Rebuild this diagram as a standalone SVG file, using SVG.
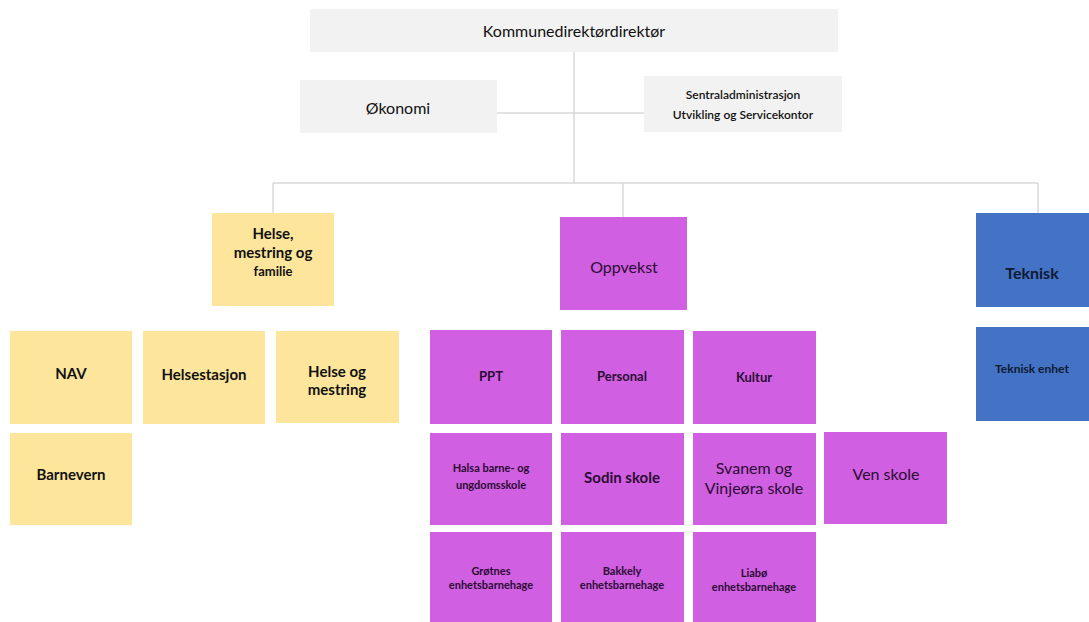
<svg xmlns="http://www.w3.org/2000/svg" width="1089" height="622" viewBox="0 0 1089 622">
<style>
text{font-family:Lato,"Liberation Sans",sans-serif;text-anchor:middle;dominant-baseline:central}
.g{fill:#f2f2f2}
.y{fill:#fde59c}
.m{fill:#d15fe2}
.b{fill:#4472c4}
.tg{fill:#111}
.ty{fill:#111;font-weight:bold}
.tm{fill:#2a0c33}
.tb{fill:#0e1a33;font-weight:bold}
.c{stroke:#d9d9d9;stroke-width:1.5;fill:none}
</style>
<rect width="1089" height="622" fill="#fff"/>
<g id="connectors">
<path class="c" d="M574 52V183M497 113H644M273 183H1038M273 183V213M623 183V217M1038 183V213"/>
</g>
<g id="kommunedirektor"><rect class="g" x="310" y="9" width="528" height="43"/><text class="tg" x="574" y="30" style="font-size:16px">Kommunedirektørdirektør</text></g>
<g id="okonomi"><rect class="g" x="300" y="80" width="197" height="53"/><text class="tg" x="398" y="107" style="font-size:16px">Økonomi</text></g>
<g id="sentraladm"><rect class="g" x="644" y="76" width="198" height="56"/><text class="tg" x="743" y="94" style="font-size:12px;font-weight:600">Sentraladministrasjon</text><text class="tg" x="743" y="114" style="font-size:12px;font-weight:600">Utvikling og Servicekontor</text></g>
<g id="helse"><rect class="y" x="212" y="213" width="122" height="93"/><text class="ty" x="273" y="233" style="font-size:15px">Helse,</text><text class="ty" x="273" y="252" style="font-size:15px">mestring og</text><text class="ty" x="273" y="271" style="font-size:13px">familie</text></g>
<g id="nav"><rect class="y" x="10" y="331" width="122" height="93"/><text class="ty" x="71" y="373" style="font-size:15px">NAV</text></g>
<g id="helsestasjon"><rect class="y" x="143" y="331" width="122" height="93"/><text class="ty" x="204" y="374" style="font-size:15px">Helsestasjon</text></g>
<g id="helsemestring"><rect class="y" x="276" y="331" width="123" height="92"/><text class="ty" x="337" y="371" style="font-size:15px">Helse og</text><text class="ty" x="337" y="389" style="font-size:15px">mestring</text></g>
<g id="barnevern"><rect class="y" x="10" y="433" width="122" height="92"/><text class="ty" x="71" y="474" style="font-size:15px">Barnevern</text></g>
<g id="oppvekst"><rect class="m" x="560" y="217" width="127" height="93"/><text class="tm" x="624" y="266" style="font-size:16px">Oppvekst</text></g>
<g id="ppt"><rect class="m" x="430" y="330" width="122" height="94"/><text class="tm" x="491" y="376" style="font-size:13px;font-weight:bold">PPT</text></g>
<g id="personal"><rect class="m" x="561" y="330" width="123" height="94"/><text class="tm" x="622" y="376" style="font-size:13px;font-weight:bold">Personal</text></g>
<g id="kultur"><rect class="m" x="693" y="331" width="123" height="93"/><text class="tm" x="754" y="377" style="font-size:13px;font-weight:bold">Kultur</text></g>
<g id="halsa"><rect class="m" x="430" y="433" width="122" height="92"/><text class="tm" x="491" y="467" style="font-size:11px;font-weight:bold">Halsa  barne- og</text><text class="tm" x="491" y="484" style="font-size:11px;font-weight:bold">ungdomsskole</text></g>
<g id="sodin"><rect class="m" x="561" y="433" width="123" height="92"/><text class="tm" x="622" y="477" style="font-size:15px;font-weight:bold">Sodin skole</text></g>
<g id="svanem"><rect class="m" x="693" y="433" width="123" height="92"/><text class="tm" x="754" y="467" style="font-size:16px">Svanem og</text><text class="tm" x="754" y="487" style="font-size:16px">Vinjeøra skole</text></g>
<g id="ven"><rect class="m" x="824" y="432" width="123" height="92"/><text class="tm" x="886" y="473" style="font-size:16px">Ven skole</text></g>
<g id="grotnes"><rect class="m" x="430" y="532" width="122" height="90"/><text class="tm" x="491" y="570" style="font-size:11px;font-weight:bold">Grøtnes</text><text class="tm" x="491" y="584" style="font-size:11px;font-weight:bold">enhetsbarnehage</text></g>
<g id="bakkely"><rect class="m" x="561" y="532" width="123" height="90"/><text class="tm" x="622" y="570" style="font-size:11px;font-weight:bold">Bakkely</text><text class="tm" x="622" y="584" style="font-size:11px;font-weight:bold">enhetsbarnehage</text></g>
<g id="liabo"><rect class="m" x="693" y="532" width="123" height="90"/><text class="tm" x="754" y="572" style="font-size:11px;font-weight:bold">Liabø</text><text class="tm" x="754" y="586" style="font-size:11px;font-weight:bold">enhetsbarnehage</text></g>
<g id="teknisk"><rect class="b" x="976" y="213" width="113" height="94"/><text class="tb" x="1032" y="272" style="font-size:16px">Teknisk</text></g>
<g id="tekniskenhet"><rect class="b" x="976" y="327" width="113" height="94"/><text class="tb" x="1032" y="368" style="font-size:12px">Teknisk enhet</text></g>
</svg>
